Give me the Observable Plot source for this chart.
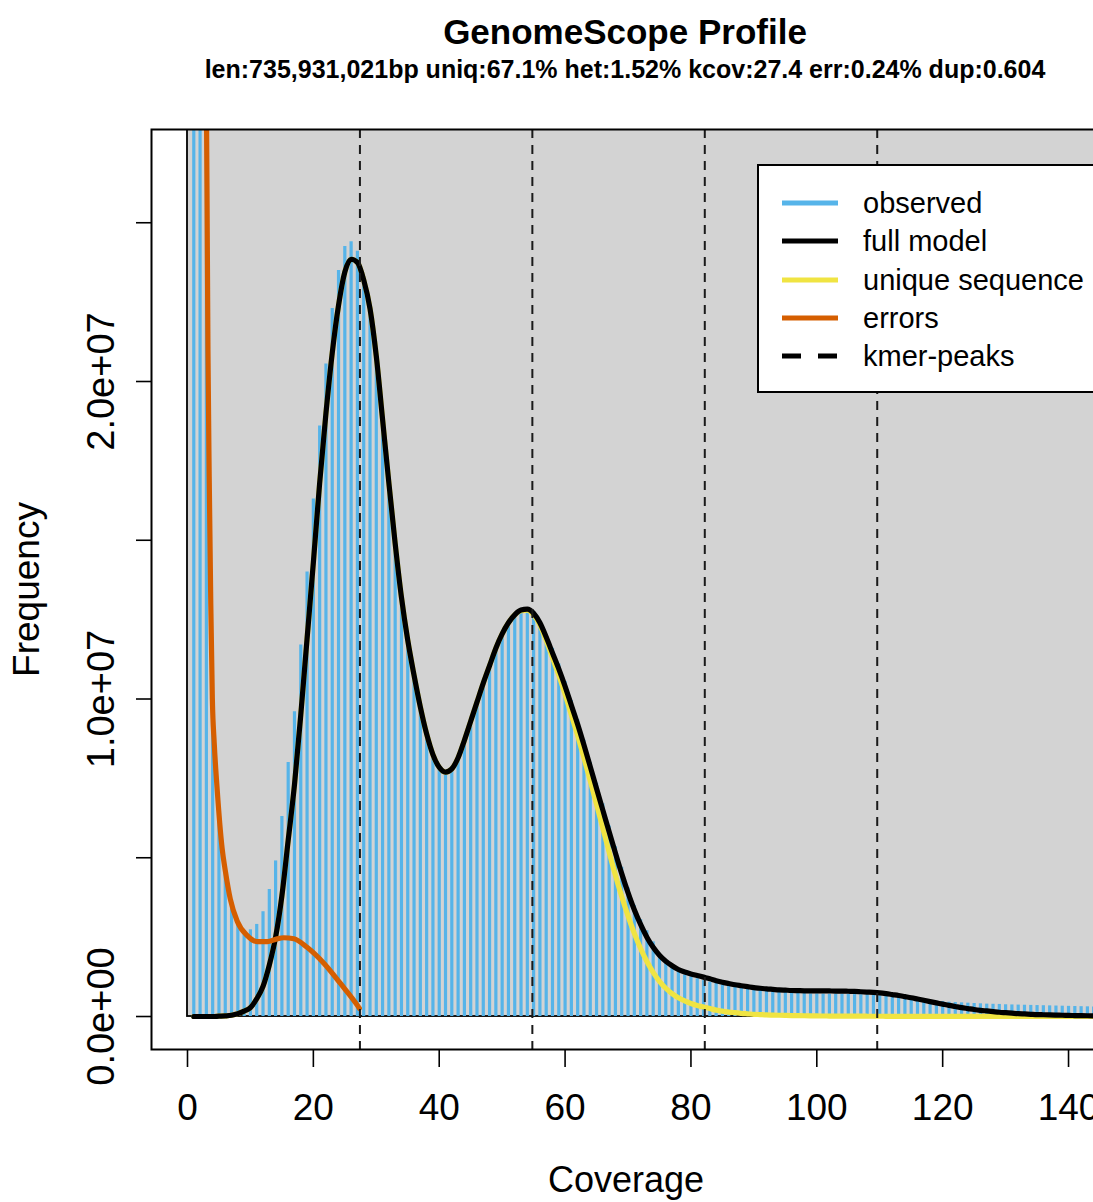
<!DOCTYPE html>
<html>
<head>
<meta charset="utf-8">
<script src="https://cdn.jsdelivr.net/npm/d3@7"></script>
<script src="https://cdn.jsdelivr.net/npm/@observablehq/plot@0.6"></script>
<style>
html, body { margin: 0; padding: 0; background: #fff; }
#wrap { position: relative; width: 1093px; height: 1202px; overflow: hidden;
  font-family: "Liberation Sans", Arial, Helvetica, sans-serif; color: #000; }
.t { position: absolute; left: 0; width: 1250px; text-align: center; font-weight: bold;
  line-height: 1; white-space: nowrap; }
#title { top: 14px; font-size: 35px; }
#subtitle { top: 57px; font-size: 25px; }
#chart { position: absolute; left: 0; top: 96px; width: 1250px; }
#chart svg { max-width: none !important; }
#legend { position: absolute; left: 757px; top: 164px; width: 343px; height: 229px;
  box-sizing: border-box; border: 2px solid #000; background: #fff; }
#legend .row { position: absolute; left: 0; width: 100%; height: 38px; }
#legend .row svg { position: absolute; left: 23px; top: 14px; }
#legend .row span { position: absolute; left: 104px; top: 0; line-height: 38px;
  font-size: 29px; white-space: nowrap; }
</style>
</head>
<body>
<div id="wrap">
  <div id="title" class="t">GenomeScope Profile</div>
  <div id="subtitle" class="t">len:735,931,021bp uniq:67.1% het:1.52% kcov:27.4 err:0.24% dup:0.604</div>
  <div id="chart"></div>
</div>
<script>
// ---- data (frequencies in millions of k-mers, coverage 1..145) ----
const observed = [
  500, 90, 30, 10.0, 6.2, 4.6, 3.6, 3.0, 2.7, 2.73,
  2.9, 3.3, 4.0, 4.9, 6.3, 8.0, 9.6, 11.7, 14.0, 16.3,
  18.6, 20.55, 22.3, 23.5, 24.25, 24.4, 24.1, 23.3, 22.4, 20.9,
  18.9, 16.9, 15.0, 13.3, 11.9, 10.8, 9.8, 8.9, 8.3, 7.9,
  7.75, 7.85, 8.2, 8.75, 9.35, 9.95, 10.55, 11.1, 11.65, 12.1,
  12.45, 12.7, 12.85, 12.85, 12.7, 12.4, 12.0, 11.6, 11.1, 10.55,
  9.95, 9.35, 8.7, 8.0, 7.35, 6.7, 6.0, 5.35, 4.7, 4.05,
  3.5, 3.05, 2.7, 2.35, 1.95, 1.75, 1.55, 1.4, 1.3, 1.25,
  1.19, 1.13, 1.08, 1.04, 1.0, 0.97, 0.945, 0.92, 0.895, 0.87,
  0.85, 0.83, 0.81, 0.79, 0.77, 0.75, 0.73, 0.72, 0.71, 0.71,
  0.705, 0.70, 0.70, 0.70, 0.695, 0.69, 0.685, 0.68, 0.67, 0.65,
  0.63, 0.61, 0.59, 0.57, 0.55, 0.53, 0.51, 0.50, 0.48, 0.47,
  0.45, 0.44, 0.43, 0.42, 0.41, 0.40, 0.39, 0.385, 0.38, 0.37,
  0.365, 0.36, 0.355, 0.35, 0.345, 0.34, 0.335, 0.33, 0.325, 0.32,
  0.315, 0.31, 0.305, 0.30, 0.30
];
const fullModel = [
  0, 0, 0, 0, 0.01, 0.02, 0.04, 0.09, 0.17, 0.28,
  0.56, 0.95, 1.62, 2.5, 3.8, 5.55, 7.3, 9.5, 11.9, 14.3,
  16.8, 19.0, 20.9, 22.4, 23.45, 23.85, 23.75, 23.2, 22.3, 20.8,
  18.8, 16.8, 14.9, 13.2, 11.85, 10.75, 9.75, 8.9, 8.25, 7.85,
  7.7, 7.8, 8.15, 8.7, 9.3, 9.9, 10.5, 11.05, 11.6, 12.05,
  12.4, 12.65, 12.8, 12.83, 12.7, 12.4, 11.95, 11.45, 10.95, 10.4,
  9.8, 9.2, 8.55, 7.87, 7.18, 6.5, 5.82, 5.15, 4.5, 3.9,
  3.36, 2.9, 2.5, 2.18, 1.93, 1.74, 1.6, 1.48, 1.4, 1.34,
  1.29, 1.24, 1.19, 1.13, 1.08, 1.04, 1.0, 0.97, 0.94, 0.91,
  0.89, 0.87, 0.855, 0.84, 0.83, 0.82, 0.815, 0.81, 0.81, 0.81,
  0.81, 0.805, 0.80, 0.80, 0.795, 0.79, 0.78, 0.77, 0.76, 0.745,
  0.72, 0.69, 0.66, 0.625, 0.59, 0.55, 0.51, 0.47, 0.43, 0.39,
  0.35, 0.315, 0.28, 0.25, 0.22, 0.195, 0.175, 0.155, 0.135, 0.12,
  0.105, 0.09, 0.08, 0.07, 0.06, 0.055, 0.05, 0.045, 0.04, 0.035,
  0.03, 0.027, 0.024, 0.022, 0.02
];
const uniqueSeq = [
  0, 0, 0, 0, 0.01, 0.02, 0.04, 0.09, 0.17, 0.28,
  0.56, 0.95, 1.62, 2.5, 3.8, 5.55, 7.3, 9.5, 11.9, 14.3,
  16.8, 19.0, 20.9, 22.4, 23.45, 23.85, 23.75, 23.2, 22.3, 20.8,
  18.8, 16.8, 14.9, 13.2, 11.85, 10.75, 9.75, 8.9, 8.25, 7.85,
  7.7, 7.8, 8.15, 8.7, 9.3, 9.9, 10.5, 11.05, 11.6, 12.05,
  12.4, 12.65, 12.78, 12.8, 12.65, 12.33, 11.85, 11.3, 10.75, 10.15,
  9.5, 8.85, 8.15, 7.42, 6.68, 5.93, 5.18, 4.45, 3.78, 3.17,
  2.62, 2.14, 1.73, 1.39, 1.11, 0.89, 0.72, 0.59, 0.49, 0.41,
  0.35, 0.30, 0.25, 0.20, 0.17, 0.14, 0.12, 0.10, 0.085, 0.07,
  0.06, 0.05, 0.045, 0.04, 0.035, 0.03, 0.027, 0.024, 0.021, 0.018,
  0.016, 0.015, 0.014, 0.013, 0.012, 0.011, 0.01, 0.009, 0.008, 0.008,
  0.007, 0.007, 0.006, 0.006, 0.005, 0.005, 0.005, 0.004, 0.004, 0.004,
  0.003, 0.003, 0.003, 0.003, 0.003, 0.003, 0.003, 0.003, 0.003, 0.003,
  0.002, 0.002, 0.002, 0.002, 0.002, 0.002, 0.002, 0.002, 0.002, 0.002,
  0.001, 0.001, 0.001, 0.001, 0.001
];
const errorCov = [2.9, 3.0, 3.1, 3.25, 3.45, 3.7, 3.95, 4.25, 4.7, 5.5, 6.0, 6.8, 7.9, 9.5,
  11.1, 12.7, 14.0, 15.3, 16.9, 19.0, 21.7, 24.3, 27.0, 27.3];
const errorVal = [32, 29, 26, 21, 17, 13, 10, 8.6, 7.2, 5.3, 4.6, 3.7, 3.0, 2.55,
  2.36, 2.36, 2.43, 2.48, 2.45, 2.18, 1.67, 1.04, 0.35, 0.26];
const kmerPeaks = [27.4, 54.8, 82.2, 109.6];
const xTicks = [0, 20, 40, 60, 80, 100, 120, 140];
const yTicks = [0, 5, 10, 15, 20, 25];          // millions
const yLabelTicks = [0, 10, 20];                // millions
const legendLabels = ["observed", "full model", "unique sequence", "errors", "kmer-peaks"];
const legendColors = ["#56B4E9", "#000000", "#F0E442", "#D55E00", "#000000"];
const legendDash = [null, null, null, null, "19,17"];

// ---- derived tables ----
const MILLION = 1e6;
const coverage = observed.map((_, i) => i + 1);
const obsData = coverage.map((c, i) => ({c, v: observed[i]}));
const modelData = coverage.map((c, i) => ({c, v: fullModel[i]}));
const uniqueData = coverage.map((c, i) => ({c, v: uniqueSeq[i]}));
const errData = errorCov.map((c, i) => ({c, v: errorVal[i]}));
const maxCov = d3.max(coverage), maxObs = d3.max(observed);
const bgRect = [{x1: 0, x2: maxCov * 1.1, y1: 0, y2: maxObs * 1.1}];
const sci = v => (v * MILLION).toExponential(1).replace(/e([+-])(\d)$/, "e$10$2");

const FONT = "Liberation Sans, Arial, Helvetica, sans-serif";
const curveOpts = {x: "c", y: "v", strokeWidth: 5.2, curve: "monotone-x", clip: true,
  strokeLinejoin: "round", strokeLinecap: "round"};

const chart = Plot.plot({
  width: 1250, height: 1106,
  marginLeft: 151, marginRight: 150, marginTop: 33, marginBottom: 153,
  x: {domain: [-5.72, 145.08]},
  y: {domain: [-1.039, 27.937]},
  style: {fontFamily: FONT, fontSize: "37px", color: "#000", background: "none",
    overflow: "visible", maxWidth: "none"},
  marks: [
    Plot.rect(bgRect, {x1: "x1", x2: "x2", y1: "y1", y2: "y2", fill: "#D3D3D3",
      stroke: "#000", strokeWidth: 1.8, clip: true}),
    Plot.ruleX(obsData, {x: "c", y1: 0, y2: "v", stroke: "#56B4E9", strokeWidth: 3.2, clip: true}),
    Plot.line(uniqueData, {...curveOpts, stroke: "#F0E442"}),
    Plot.line(modelData, {...curveOpts, stroke: "#000"}),
    Plot.line(errData, {...curveOpts, stroke: "#D55E00"}),
    Plot.ruleX(kmerPeaks, {x: d => d, stroke: "#1a1a1a", strokeWidth: 2, strokeDasharray: "9,7"}),
    Plot.frame({stroke: "#000", strokeWidth: 2}),
    Plot.axisX({ticks: xTicks, tickSize: 18, tickFormat: () => "", label: null, strokeWidth: 1.6}),
    Plot.axisY({ticks: yTicks, tickSize: 15, tickFormat: () => "", label: null, anchor: "left", strokeWidth: 1.6}),
    Plot.text(xTicks, {x: d => d, text: d => String(d), frameAnchor: "bottom", dy: 70,
      lineAnchor: "bottom", textAnchor: "middle", fontSize: 37, fontFamily: FONT}),
    Plot.text(yLabelTicks, {y: d => d, text: d => sci(d), frameAnchor: "left", dx: -38,
      rotate: -90, lineAnchor: "bottom", textAnchor: "middle", fontSize: 38, fontFamily: FONT}),
    Plot.text(["Coverage"], {text: d => d, frameAnchor: "bottom", dy: 142,
      lineAnchor: "bottom", textAnchor: "middle", fontSize: 36, fontFamily: FONT}),
    Plot.text(["Frequency"], {text: d => d, frameAnchor: "left", dx: -113, rotate: -90,
      lineAnchor: "bottom", textAnchor: "middle", fontSize: 37, fontFamily: FONT})
  ]
});
document.getElementById("chart").appendChild(chart);

// ---- legend ----
const legend = d3.select("#wrap").append("div").attr("id", "legend");
const rowCenters = [39, 77, 116, 154, 192];
legendLabels.forEach((lab, i) => {
  const row = legend.append("div").attr("class", "row").style("top", (rowCenters[i] - 2 - 19) + "px");
  const svg = row.append("svg").attr("width", 56).attr("height", 10);
  const ln = svg.append("line").attr("x1", 0).attr("x2", 56).attr("y1", 5).attr("y2", 5)
    .attr("stroke", legendColors[i]).attr("stroke-width", 5);
  if (legendDash[i]) ln.attr("stroke-dasharray", legendDash[i]);
  row.append("span").text(lab);
});
</script>
</body>
</html>
